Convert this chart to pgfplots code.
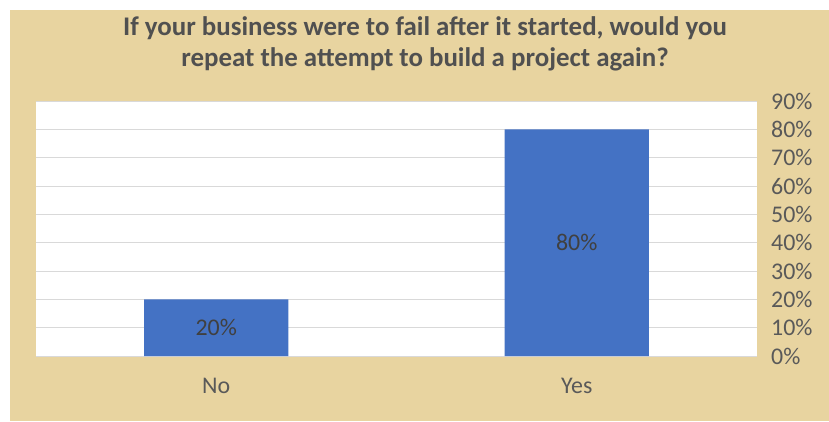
\documentclass[border=0pt]{standalone}
\usepackage{fontspec}
\setmainfont{Carlito}
\usepackage{pgfplots}
\pgfplotsset{compat=1.18}
\definecolor{parch}{RGB}{232,212,160}
\definecolor{barblue}{RGB}{68,114,196}
\definecolor{txtgray}{RGB}{89,89,89}
\definecolor{lblgray}{RGB}{64,64,64}
\definecolor{titlegray}{RGB}{80,80,80}
\definecolor{gridgray}{RGB}{217,217,217}
\begin{document}
\begin{tikzpicture}[x=1bp,y=1bp]
\fill[white] (0,0) rectangle (829,421);
\fill[parch] (10,0) rectangle (829,411);
\node[font=\bfseries\fontsize{27}{31}\selectfont, text=titlegray, anchor=base, inner sep=0] at (425,386) {If your business were to fail after it started, would you};
\node[font=\bfseries\fontsize{27}{31}\selectfont, text=titlegray, anchor=base, inner sep=0] at (425,355) {repeat the attempt to build a project again?};
\begin{axis}[
  at={(36bp,65bp)}, anchor=south west,
  scale only axis, width=721bp, height=255bp,
  xmin=-0.5, xmax=1.5, ymin=0, ymax=90,
  axis background/.style={fill=white},
  xtick={0,1}, xticklabels={No,Yes},
  ytick={0,10,...,90},
  yticklabel={\pgfmathprintnumber{\tick}\%},
  /pgf/number format/assume math mode=true,
  ticklabel style={font=\fontsize{24}{26}\selectfont, text=txtgray, inner sep=0pt},
  yticklabel style={anchor=west, xshift=14bp},
  xticklabel style={anchor=base, yshift=-37bp},
  major tick length=0pt,
  ymajorgrids, grid style={gridgray, line width=1pt},
  axis x line*=bottom, axis y line*=right,
  x axis line style={gridgray, line width=1pt, -},
  y axis line style={draw=none},
  clip=false,
]
\addplot[ybar, bar width=0.4, fill=barblue, draw=none] coordinates {(0,20) (1,80)};
\addplot[draw=none, mark=none, nodes near coords, point meta=explicit symbolic,
  every node near coord/.style={anchor=center, font=\fontsize{24}{26}\selectfont, text=lblgray}]
  coordinates {(0,10) [20\%] (1,40) [80\%]};
\end{axis}
\end{tikzpicture}
\end{document}
